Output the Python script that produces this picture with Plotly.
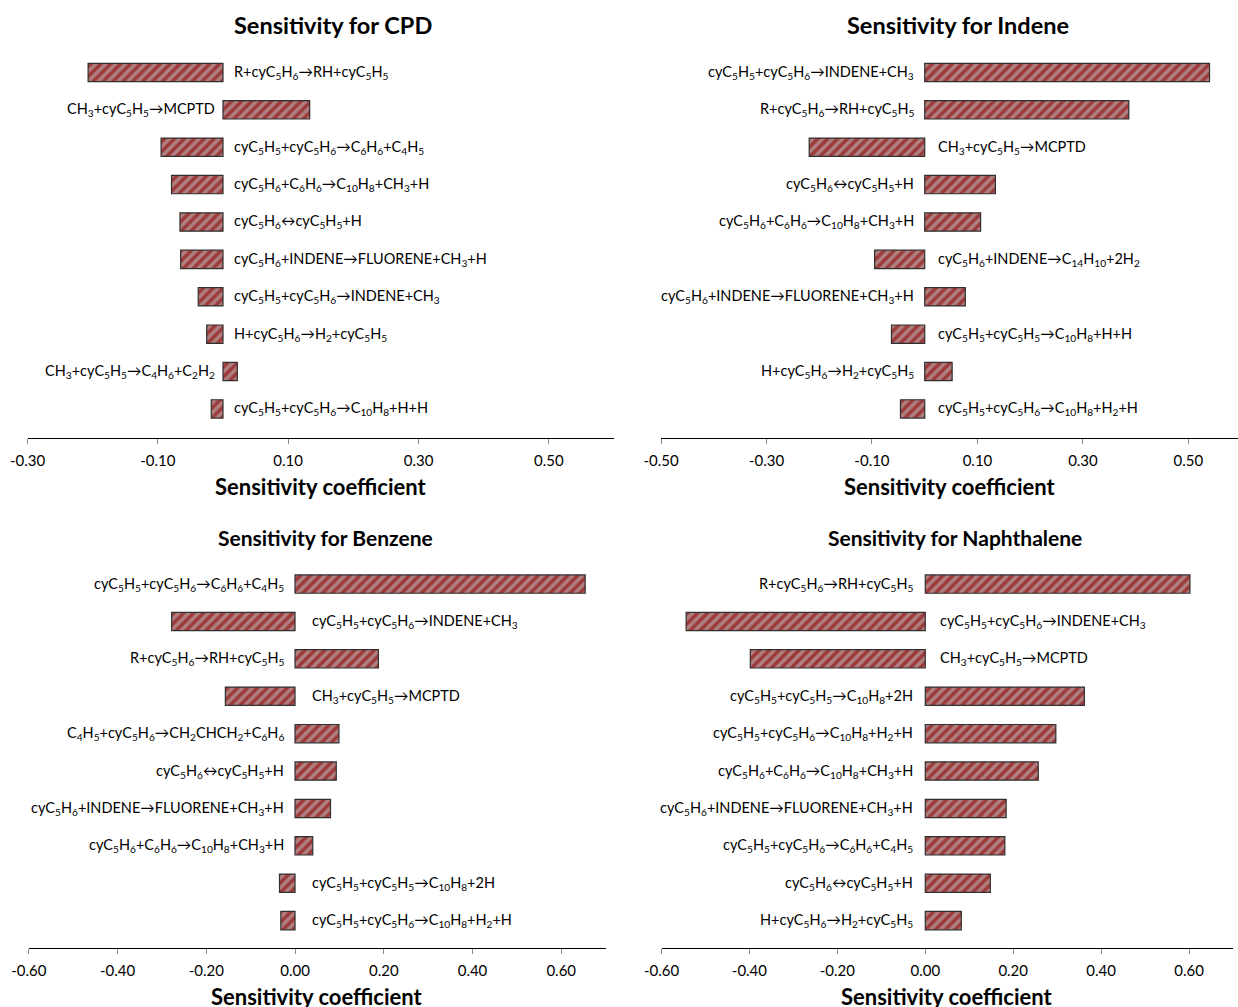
import plotly.graph_objects as go

# ---- data -----------------------------------------------------------------
ARR = "→"
EQ = "↔"

cpd_reactions = [
    f"R+cyC<sub>5</sub>H<sub>6</sub>{ARR}RH+cyC<sub>5</sub>H<sub>5</sub>",
    f"CH<sub>3</sub>+cyC<sub>5</sub>H<sub>5</sub>{ARR}MCPTD",
    f"cyC<sub>5</sub>H<sub>5</sub>+cyC<sub>5</sub>H<sub>6</sub>{ARR}C<sub>6</sub>H<sub>6</sub>+C<sub>4</sub>H<sub>5</sub>",
    f"cyC<sub>5</sub>H<sub>6</sub>+C<sub>6</sub>H<sub>6</sub>{ARR}C<sub>10</sub>H<sub>8</sub>+CH<sub>3</sub>+H",
    f"cyC<sub>5</sub>H<sub>6</sub>{EQ}cyC<sub>5</sub>H<sub>5</sub>+H",
    f"cyC<sub>5</sub>H<sub>6</sub>+INDENE{ARR}FLUORENE+CH<sub>3</sub>+H",
    f"cyC<sub>5</sub>H<sub>5</sub>+cyC<sub>5</sub>H<sub>6</sub>{ARR}INDENE+CH<sub>3</sub>",
    f"H+cyC<sub>5</sub>H<sub>6</sub>{ARR}H<sub>2</sub>+cyC<sub>5</sub>H<sub>5</sub>",
    f"CH<sub>3</sub>+cyC<sub>5</sub>H<sub>5</sub>{ARR}C<sub>4</sub>H<sub>6</sub>+C<sub>2</sub>H<sub>2</sub>",
    f"cyC<sub>5</sub>H<sub>5</sub>+cyC<sub>5</sub>H<sub>6</sub>{ARR}C<sub>10</sub>H<sub>8</sub>+H+H",
]
cpd_values = [-0.207, 0.133, -0.095, -0.079, -0.066, -0.065, -0.038, -0.025, 0.022, -0.018]

indene_reactions = [
    f"cyC<sub>5</sub>H<sub>5</sub>+cyC<sub>5</sub>H<sub>6</sub>{ARR}INDENE+CH<sub>3</sub>",
    f"R+cyC<sub>5</sub>H<sub>6</sub>{ARR}RH+cyC<sub>5</sub>H<sub>5</sub>",
    f"CH<sub>3</sub>+cyC<sub>5</sub>H<sub>5</sub>{ARR}MCPTD",
    f"cyC<sub>5</sub>H<sub>6</sub>{EQ}cyC<sub>5</sub>H<sub>5</sub>+H",
    f"cyC<sub>5</sub>H<sub>6</sub>+C<sub>6</sub>H<sub>6</sub>{ARR}C<sub>10</sub>H<sub>8</sub>+CH<sub>3</sub>+H",
    f"cyC<sub>5</sub>H<sub>6</sub>+INDENE{ARR}C<sub>14</sub>H<sub>10</sub>+2H<sub>2</sub>",
    f"cyC<sub>5</sub>H<sub>6</sub>+INDENE{ARR}FLUORENE+CH<sub>3</sub>+H",
    f"cyC<sub>5</sub>H<sub>5</sub>+cyC<sub>5</sub>H<sub>5</sub>{ARR}C<sub>10</sub>H<sub>8</sub>+H+H",
    f"H+cyC<sub>5</sub>H<sub>6</sub>{ARR}H<sub>2</sub>+cyC<sub>5</sub>H<sub>5</sub>",
    f"cyC<sub>5</sub>H<sub>5</sub>+cyC<sub>5</sub>H<sub>6</sub>{ARR}C<sub>10</sub>H<sub>8</sub>+H<sub>2</sub>+H",
]
indene_values = [0.540, 0.387, -0.219, 0.134, 0.106, -0.095, 0.077, -0.063, 0.052, -0.046]

benzene_reactions = [
    f"cyC<sub>5</sub>H<sub>5</sub>+cyC<sub>5</sub>H<sub>6</sub>{ARR}C<sub>6</sub>H<sub>6</sub>+C<sub>4</sub>H<sub>5</sub>",
    f"cyC<sub>5</sub>H<sub>5</sub>+cyC<sub>5</sub>H<sub>6</sub>{ARR}INDENE+CH<sub>3</sub>",
    f"R+cyC<sub>5</sub>H<sub>6</sub>{ARR}RH+cyC<sub>5</sub>H<sub>5</sub>",
    f"CH<sub>3</sub>+cyC<sub>5</sub>H<sub>5</sub>{ARR}MCPTD",
    f"C<sub>4</sub>H<sub>5</sub>+cyC<sub>5</sub>H<sub>6</sub>{ARR}CH<sub>2</sub>CHCH<sub>2</sub>+C<sub>6</sub>H<sub>6</sub>",
    f"cyC<sub>5</sub>H<sub>6</sub>{EQ}cyC<sub>5</sub>H<sub>5</sub>+H",
    f"cyC<sub>5</sub>H<sub>6</sub>+INDENE{ARR}FLUORENE+CH<sub>3</sub>+H",
    f"cyC<sub>5</sub>H<sub>6</sub>+C<sub>6</sub>H<sub>6</sub>{ARR}C<sub>10</sub>H<sub>8</sub>+CH<sub>3</sub>+H",
    f"cyC<sub>5</sub>H<sub>5</sub>+cyC<sub>5</sub>H<sub>5</sub>{ARR}C<sub>10</sub>H<sub>8</sub>+2H",
    f"cyC<sub>5</sub>H<sub>5</sub>+cyC<sub>5</sub>H<sub>6</sub>{ARR}C<sub>10</sub>H<sub>8</sub>+H<sub>2</sub>+H",
]
benzene_values = [0.654, -0.278, 0.188, -0.157, 0.099, 0.093, 0.080, 0.040, -0.035, -0.032]

naphthalene_reactions = [
    f"R+cyC<sub>5</sub>H<sub>6</sub>{ARR}RH+cyC<sub>5</sub>H<sub>5</sub>",
    f"cyC<sub>5</sub>H<sub>5</sub>+cyC<sub>5</sub>H<sub>6</sub>{ARR}INDENE+CH<sub>3</sub>",
    f"CH<sub>3</sub>+cyC<sub>5</sub>H<sub>5</sub>{ARR}MCPTD",
    f"cyC<sub>5</sub>H<sub>5</sub>+cyC<sub>5</sub>H<sub>5</sub>{ARR}C<sub>10</sub>H<sub>8</sub>+2H",
    f"cyC<sub>5</sub>H<sub>5</sub>+cyC<sub>5</sub>H<sub>6</sub>{ARR}C<sub>10</sub>H<sub>8</sub>+H<sub>2</sub>+H",
    f"cyC<sub>5</sub>H<sub>6</sub>+C<sub>6</sub>H<sub>6</sub>{ARR}C<sub>10</sub>H<sub>8</sub>+CH<sub>3</sub>+H",
    f"cyC<sub>5</sub>H<sub>6</sub>+INDENE{ARR}FLUORENE+CH<sub>3</sub>+H",
    f"cyC<sub>5</sub>H<sub>5</sub>+cyC<sub>5</sub>H<sub>6</sub>{ARR}C<sub>6</sub>H<sub>6</sub>+C<sub>4</sub>H<sub>5</sub>",
    f"cyC<sub>5</sub>H<sub>6</sub>{EQ}cyC<sub>5</sub>H<sub>5</sub>+H",
    f"H+cyC<sub>5</sub>H<sub>6</sub>{ARR}H<sub>2</sub>+cyC<sub>5</sub>H<sub>5</sub>",
]
naphthalene_values = [0.602, -0.544, -0.398, 0.362, 0.297, 0.257, 0.184, 0.181, 0.148, 0.082]

cpd_ticks = [-0.30, -0.10, 0.10, 0.30, 0.50]
indene_ticks = [-0.50, -0.30, -0.10, 0.10, 0.30, 0.50]
bottom_ticks = [-0.60, -0.40, -0.20, 0.00, 0.20, 0.40, 0.60]

titles = ["Sensitivity for CPD", "Sensitivity for Indene",
          "Sensitivity for Benzene", "Sensitivity for Naphthalene"]
x_title = "Sensitivity coefficient"

# ---- layout helpers ---------------------------------------------------------
W, H = 1238, 1007
FONT = "Lato, 'Open Sans', sans-serif"


def xdom(px0, px1):
    return [px0 / W, min(px1 / W, 1.0)]


def ydom(top, bottom):
    return [1 - bottom / H, 1 - top / H]


panels = [
    # reactions, values, ticks, x range, x px, y px (top, bottom), y range, label gaps (neg, pos),
    # title centre x, title y, title size, axis-title y
    dict(r=cpd_reactions, v=cpd_values, t=cpd_ticks, xr=[-0.3, 0.6], xpx=(27.5, 614),
         ypx=(53, 437.7), yr=[9.77, -0.52], gap=(9, 6), tx=333, ty=25, ts=23.5, axy=486),
    dict(r=indene_reactions, v=indene_values, t=indene_ticks, xr=[-0.5, 0.594], xpx=(661, 1238),
         ypx=(53, 437.7), yr=[9.77, -0.52], gap=(11, 9), tx=958, ty=25, ts=23.5, axy=486),
    dict(r=benzene_reactions, v=benzene_values, t=bottom_ticks, xr=[-0.6, 0.7], xpx=(28.8, 605.6),
         ypx=(565, 948.3), yr=[9.74, -0.51], gap=(15, 9), tx=325, ty=537, ts=21, axy=996),
    dict(r=naphthalene_reactions, v=naphthalene_values, t=bottom_ticks, xr=[-0.6, 0.7], xpx=(661.5, 1233),
         ypx=(565, 948.3), yr=[9.74, -0.51], gap=(13, 10), tx=955, ty=537, ts=21, axy=996),
]

fig = go.Figure()
annotations = []

for i, p in enumerate(panels, start=1):
    xa = "x" if i == 1 else f"x{i}"
    ya = "y" if i == 1 else f"y{i}"

    fig.add_trace(go.Bar(
        x=p["v"], y=p["r"], orientation="h", width=0.49,
        xaxis=xa, yaxis=ya, showlegend=False, hoverinfo="x+y",
        marker=dict(
            color="#9c3a3a",
            line=dict(color="#303030", width=1.2),
            pattern=dict(shape="/", fgcolor="#c4c4c4", bgcolor="#9c3a3a",
                         fillmode="overlay", size=7, solidity=0.5),
        ),
    ))

    # reaction labels sit at the zero line, on the side opposite the bar
    for name, val in zip(p["r"], p["v"]):
        annotations.append(dict(
            x=0, y=name, xref=xa, yref=ya, text=name, showarrow=False,
            xanchor="left" if val < 0 else "right",
            xshift=p["gap"][0] if val < 0 else -p["gap"][1],
            font=dict(family=FONT, size=14.5, color="#000000"),
        ))

    # panel title
    annotations.append(dict(
        x=p["tx"] / W, y=1 - p["ty"] / H, xref="paper", yref="paper",
        text=f"<b>{titles[i - 1]}</b>", showarrow=False,
        xanchor="center", yanchor="middle",
        font=dict(family=FONT, size=p["ts"], color="#000000"),
    ))
    # axis title
    annotations.append(dict(
        x=(p["xpx"][0] + p["xpx"][1]) / 2 / W, y=1 - p["axy"] / H,
        xref="paper", yref="paper", text=f"<b>{x_title}</b>", showarrow=False,
        xanchor="center", yanchor="middle",
        font=dict(family=FONT, size=22, color="#000000"),
    ))

    xkey = "xaxis" if i == 1 else f"xaxis{i}"
    ykey = "yaxis" if i == 1 else f"yaxis{i}"
    fig.update_layout(**{
        xkey: dict(
            domain=xdom(*p["xpx"]), range=p["xr"], anchor=ya, automargin=False,
            tickmode="array", tickvals=p["t"], ticktext=[f"{t:.2f}" for t in p["t"]],
            showline=True, linecolor="#000000", linewidth=1.3,
            ticks="outside", ticklen=5, tickcolor="#888888", tickwidth=1,
            ticklabelstandoff=4,
            showgrid=False, zeroline=False,
            tickfont=dict(family=FONT, size=15, color="#000000"),
            fixedrange=True,
        ),
        ykey: dict(
            domain=ydom(*p["ypx"]), range=p["yr"], anchor=xa, automargin=False,
            type="category", categoryorder="array", categoryarray=p["r"],
            showticklabels=False, showline=False, showgrid=False, zeroline=False,
            ticks="", fixedrange=True,
        ),
    })

fig.update_layout(
    template="none",
    width=W, height=H,
    margin=dict(l=0, r=0, t=0, b=0, pad=0),
    paper_bgcolor="#ffffff", plot_bgcolor="rgba(0,0,0,0)",
    bargap=0.5,
    annotations=annotations,
    font=dict(family=FONT, color="#000000"),
)

fig.write_html("out.html", config={"displayModeBar": False})
